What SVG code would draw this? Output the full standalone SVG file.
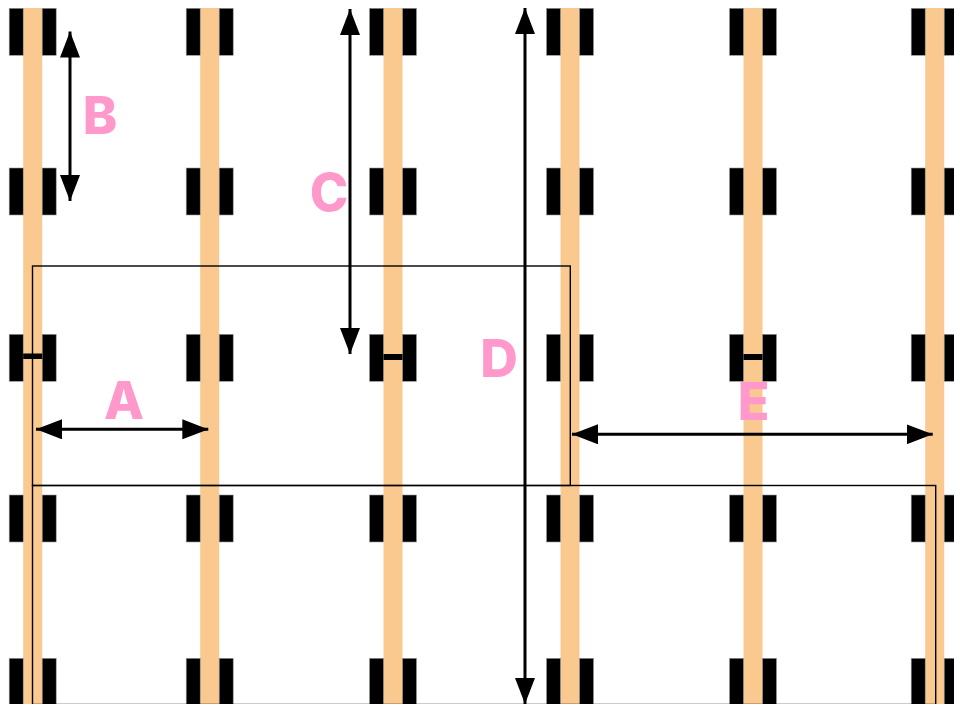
<svg xmlns="http://www.w3.org/2000/svg" width="954" height="704" viewBox="0 0 954 704">
<defs>
<style>
.stripe{fill:#FAC990}
.blk{fill:#000;stroke:#999;stroke-width:0.6}
.hbar{fill:#000}
.box{fill:none;stroke:#000;stroke-width:1.4}
.dim{stroke:#000;stroke-width:3;fill:none}
.lbl{font-family:"Inter","Liberation Sans",sans-serif;font-weight:800;font-size:52px;fill:#FF99CC;text-anchor:middle}
</style>
<marker id="ah" viewBox="0 0 26 20" refX="26" refY="10" markerWidth="26" markerHeight="20" markerUnits="userSpaceOnUse" orient="auto-start-reverse">
<path d="M0,0 L26,10 L0,20 Z" fill="#000"/>
</marker>
<g id="post">
<rect class="blk" x="-23.5" y="0" width="14" height="47"/>
<rect class="blk" x="9.5" y="0" width="14" height="47"/>
</g>
</defs>
<rect width="954" height="704" fill="#fff"/>
<g id="stripes">
<rect class="stripe" x="23.2" y="8" width="19" height="696"/>
<rect class="stripe" x="200.2" y="8" width="19" height="696"/>
<rect class="stripe" x="383.5" y="8" width="19" height="696"/>
<rect class="stripe" x="560.5" y="8" width="19" height="696"/>
<rect class="stripe" x="743.5" y="8" width="19" height="696"/>
<rect class="stripe" x="925.2" y="8" width="19" height="696"/>
</g>
<g id="posts">
<use href="#post" x="32.7" y="8.3"/><use href="#post" x="209.7" y="8.3"/><use href="#post" x="393" y="8.3"/><use href="#post" x="570" y="8.3"/><use href="#post" x="753" y="8.3"/><use href="#post" x="934.7" y="8.3"/>
<use href="#post" x="32.7" y="168"/><use href="#post" x="209.7" y="168"/><use href="#post" x="393" y="168"/><use href="#post" x="570" y="168"/><use href="#post" x="753" y="168"/><use href="#post" x="934.7" y="168"/>
<use href="#post" x="32.7" y="334.3"/><use href="#post" x="209.7" y="334.3"/><use href="#post" x="393" y="334.3"/><use href="#post" x="570" y="334.3"/><use href="#post" x="753" y="334.3"/><use href="#post" x="934.7" y="334.3"/>
<use href="#post" x="32.7" y="495"/><use href="#post" x="209.7" y="495"/><use href="#post" x="393" y="495"/><use href="#post" x="570" y="495"/><use href="#post" x="753" y="495"/><use href="#post" x="934.7" y="495"/>
<use href="#post" x="32.7" y="658.3"/><use href="#post" x="209.7" y="658.3"/><use href="#post" x="393" y="658.3"/><use href="#post" x="570" y="658.3"/><use href="#post" x="753" y="658.3"/><use href="#post" x="934.7" y="658.3"/>
</g>
<g id="hbars">
<rect class="hbar" x="23.2" y="353.5" width="19" height="5.5"/>
<rect class="hbar" x="383.5" y="354" width="19" height="6"/>
<rect class="hbar" x="743.5" y="354" width="19" height="6"/>
</g>
<g id="boxes">
<rect class="box" x="32.5" y="266" width="537.8" height="219.5"/>
<rect class="box" x="32.5" y="485.5" width="903.2" height="219"/>
</g>
<g id="connectors">
<line class="dim" x1="70" y1="31.5" x2="70" y2="201" marker-start="url(#ah)" marker-end="url(#ah)"/>
<line class="dim" x1="350" y1="9" x2="350" y2="354" marker-start="url(#ah)" marker-end="url(#ah)"/>
<line class="dim" x1="525" y1="8" x2="525" y2="704" marker-start="url(#ah)" marker-end="url(#ah)"/>
<line class="dim" x1="36" y1="429.3" x2="208.3" y2="429.3" marker-start="url(#ah)" marker-end="url(#ah)"/>
<line class="dim" x1="572" y1="434.3" x2="932.7" y2="434.3" marker-start="url(#ah)" marker-end="url(#ah)"/>
</g>
<g id="labels">
<text class="lbl" x="100" y="134">B</text>
<text class="lbl" x="329" y="211">C</text>
<text class="lbl" x="499" y="377">D</text>
<text class="lbl" x="124" y="419">A</text>
<text class="lbl" x="753.5" y="419.5">E</text>
</g>
</svg>
